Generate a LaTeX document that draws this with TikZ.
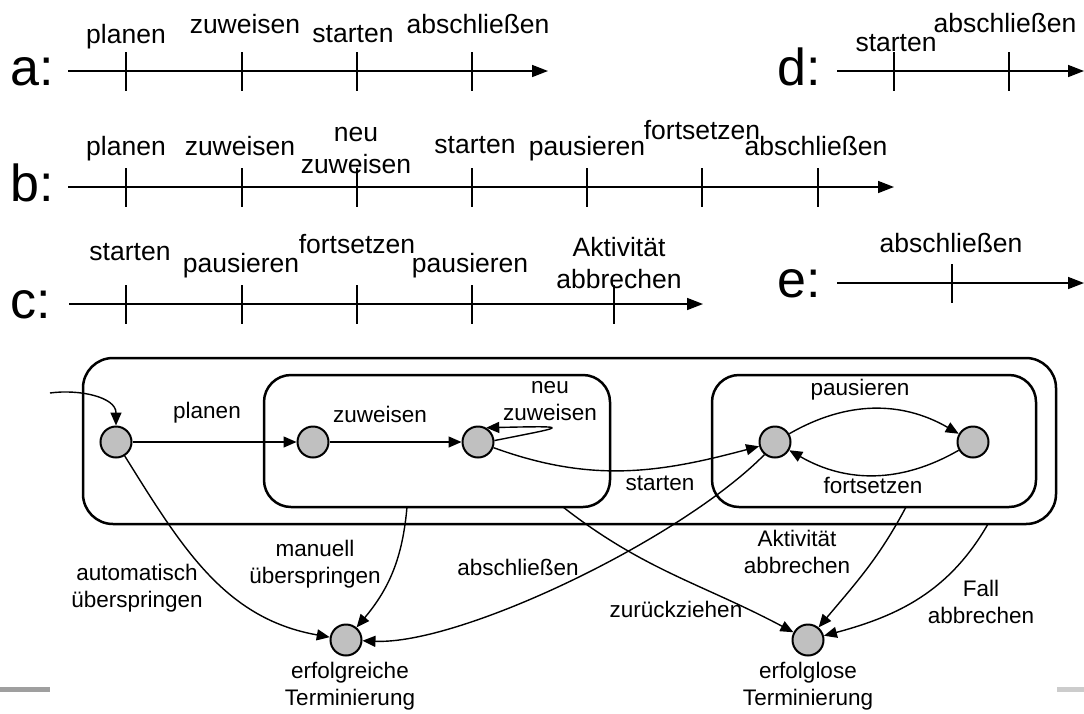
\documentclass[tikz,border=0pt]{standalone}
\usepackage{fontspec}
\setmainfont{Liberation Sans}
\usetikzlibrary{arrows.meta}
\definecolor{stategray}{RGB}{192,192,192}
\begin{document}
\begin{tikzpicture}[x=1pt,y=1pt,
  tl/.style={line width=1.6pt,-{Triangle[length=16pt,width=12pt]}},
  tick/.style={line width=1.6pt},
  tlab/.style={font=\fontsize{26.5}{32}\selectfont,anchor=base,inner sep=0pt,align=center},
  big/.style={font=\fontsize{52}{60}\selectfont,anchor=base west,inner sep=0pt},
  state/.style={circle,draw,line width=2pt,fill=stategray,minimum size=31pt,inner sep=0pt},
  outerbox/.style={rounded corners=30pt,line width=2.5pt},
  innerbox/.style={rounded corners=27pt,line width=2.5pt},
  edge/.style={line width=1.4pt,-{Triangle[length=13pt,width=11pt]}},
  dlab/.style={font=\fontsize{22.5}{27}\selectfont,anchor=base,inner sep=0pt,align=center}]
\useasboundingbox (0,0) rectangle (1084,-713);

% ---------- timeline a ----------
\node[big] (la) at (10,-85) {a:};
\coordinate (a0) at (68,-71); \coordinate (a1) at (548,-71);
\draw[tl] (a0) -- (a1);
\foreach \x in {126,242,357,472} \draw[tick] (\x,-52) -- (\x,-91);
\node[tlab] (a-plan) at (126,-43) {planen};
\node[tlab] (a-zuw) at (245,-33) {zuweisen};
\node[tlab] (a-start) at (353,-42) {starten};
\node[tlab] (a-absch) at (478,-33) {abschließen};

% ---------- timeline b ----------
\node[big] (lb) at (10,-201) {b:};
\coordinate (b0) at (68,-187); \coordinate (b1) at (894,-187);
\draw[tl] (b0) -- (b1);
\foreach \x in {126,242,357,472,587,702,818} \draw[tick] (\x,-168) -- (\x,-207);
\node[tlab] (b-plan) at (126,-155) {planen};
\node[tlab] (b-zuw) at (240,-155) {zuweisen};
\node[tlab] (b-neu) at (356,-173) {neu\\zuweisen};
\node[tlab] (b-start) at (475,-153) {starten};
\node[tlab] (b-paus) at (587,-155) {pausieren};
\node[tlab] (b-forts) at (702,-139) {fortsetzen};
\node[tlab] (b-absch) at (816,-155) {abschließen};

% ---------- timeline c ----------
\node[big] (lc) at (10,-318) {c:};
\coordinate (c0) at (69,-304); \coordinate (c1) at (703,-304);
\draw[tl] (c0) -- (c1);
\foreach \x in {126,242,357,472,614} \draw[tick] (\x,-285) -- (\x,-324);
\node[tlab] (c-start) at (130,-260) {starten};
\node[tlab] (c-paus1) at (241,-272) {pausieren};
\node[tlab] (c-forts) at (357,-253) {fortsetzen};
\node[tlab] (c-paus2) at (470,-272) {pausieren};
\node[tlab] (c-abbr) at (619,-288) {Aktivität\\abbrechen};

% ---------- timeline d ----------
\node[big] (ld) at (777,-85) {d:};
\coordinate (d0) at (837,-71); \coordinate (d1) at (1084,-71);
\draw[tl] (d0) -- (d1);
\foreach \x in {894,1009} \draw[tick] (\x,-52) -- (\x,-91);
\node[tlab] (d-start) at (896,-51) {starten};
\node[tlab] (d-absch) at (1005,-32) {abschließen};

% ---------- timeline e ----------
\node[big] (le) at (777,-297) {e:};
\coordinate (e0) at (837,-283); \coordinate (e1) at (1084,-283);
\draw[tl] (e0) -- (e1);
\draw[tick] (952,-264) -- (952,-303);
\node[tlab] (e-absch) at (951,-252) {abschließen};

% ---------- state diagram ----------
\draw[outerbox] (83,-358) rectangle (1056,-524);
\draw[innerbox] (264,-375) rectangle (610,-507);
\draw[innerbox] (712,-375) rectangle (1036,-507);

\node[state] (s0) at (116,-442) {};
\node[state] (s1) at (313,-442) {};
\node[state] (s2) at (478,-442) {};
\node[state] (s3) at (775,-442) {};
\node[state] (s4) at (973,-442) {};
\node[state] (ok) at (346,-640) {};
\node[state] (fail) at (808,-640) {};

% start points on the box borders
\coordinate (init) at (50,-393);
\coordinate (m0) at (407,-507);
\coordinate (z0) at (563,-507);
\coordinate (k0) at (906,-507);
\coordinate (f0) at (988,-524);

\draw[edge] (init) to[out=8,in=90] (s0);
\draw[edge] (s0) -- (s1);
\draw[edge] (s1) -- (s2);
\draw[edge] (s2.5) .. controls +(70,14) and +(90,2) .. (s2.60);
\draw[edge] (s2) to[out=-20,in=-165] (s3);
\draw[edge] (s3) to[bend left=30] (s4);
\draw[edge] (s4) to[bend left=30] (s3);
\draw[edge] (s0) to[out=-58,in=170] (ok);
\draw[edge] (m0) to[out=-95,in=50] (ok);
\draw[edge] (s3.-130) .. controls (680,-540) and (460,-645) .. (ok);
\draw[edge] (z0) to[out=-38,in=152] (fail);
\draw[edge] (k0) to[out=-118,in=50] (fail);
\draw[edge] (f0) to[out=-120,in=15] (fail);

% edge labels
\node[dlab] (l-plan) at (207,-418) {planen};
\node[dlab] (l-zuw) at (380,-422) {zuweisen};
\node[dlab] (l-neu) at (550,-420) {neu\\zuweisen};
\node[dlab] (l-start) at (660,-490) {starten};
\node[dlab] (l-paus) at (860,-395) {pausieren};
\node[dlab] (l-forts) at (873,-493) {fortsetzen};
\node[dlab] (l-auto) at (137,-607) {automatisch\\überspringen};
\node[dlab] (l-man) at (315,-583) {manuell\\überspringen};
\node[dlab] (l-absch) at (518,-575) {abschließen};
\node[dlab] (l-zur) at (676,-617) {zurückziehen};
\node[dlab] (l-akt) at (797,-573) {Aktivität\\abbrechen};
\node[dlab] (l-fall) at (981,-623) {Fall\\abbrechen};
\node[dlab] (l-ok) at (350,-705) {erfolgreiche\\Terminierung};
\node[dlab] (l-fail) at (808,-705) {erfolglose\\Terminierung};

% slide rules at the bottom edge
\fill[gray!75] (0,-687) rectangle (50,-692);
\fill[gray!40] (1057,-687) rectangle (1084,-692);
\end{tikzpicture}
\end{document}
